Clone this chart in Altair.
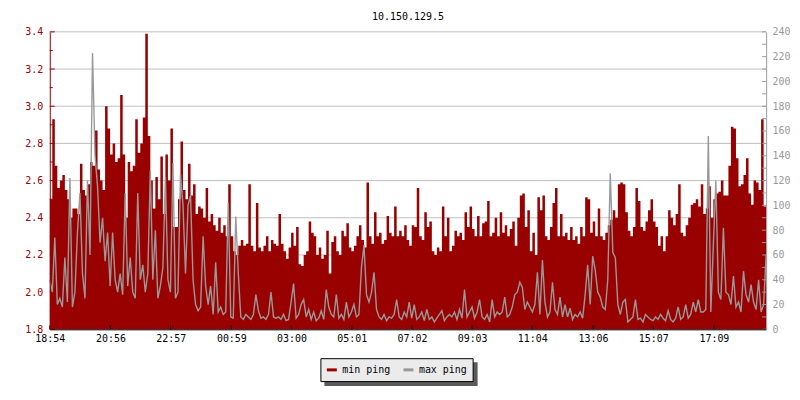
import altair as alt
import pandas as pd

# ---- data (5-minute steps, 18:54 -> 18:54 next day) ----
min_ping = [
    2.50, 2.93, 2.68, 2.56, 2.60, 2.63, 2.55, 2.50, 2.40, 2.45,
    2.45, 2.42, 2.69, 2.55, 2.52, 2.58, 2.70, 2.68, 2.87, 2.66,
    2.60, 2.55, 3.00, 2.88, 2.74, 2.80, 2.70, 2.72, 3.06, 2.74,
    2.40, 2.70, 2.65, 2.68, 2.93, 2.75, 2.80, 2.94, 3.39, 2.84,
    2.60, 2.45, 2.62, 2.50, 2.73, 2.42, 2.74, 2.60, 2.88, 2.35,
    2.35, 2.50, 2.81, 2.55, 2.50, 2.69, 2.52, 2.58, 2.42, 2.46,
    2.45, 2.40, 2.56, 2.38, 2.42, 2.36, 2.33, 2.40, 2.32, 2.36,
    2.30, 2.58, 2.30, 2.22, 2.20, 2.25, 2.28, 2.25, 2.26, 2.58,
    2.25, 2.22, 2.48, 2.24, 2.22, 2.25, 2.30, 2.22, 2.28, 2.26,
    2.25, 2.42, 2.26, 2.22, 2.18, 2.24, 2.32, 2.25, 2.35, 2.15,
    2.14, 2.20, 2.22, 2.38, 2.32, 2.30, 2.20, 2.24, 2.18, 2.20,
    2.33, 2.10, 2.27, 2.30, 2.22, 2.20, 2.33, 2.30, 2.37, 2.24,
    2.22, 2.25, 2.30, 2.36, 2.28, 2.24, 2.59, 2.30, 2.26, 2.43,
    2.30, 2.32, 2.26, 2.28, 2.41, 2.32, 2.30, 2.46, 2.30, 2.33,
    2.30, 2.36, 2.28, 2.25, 2.36, 2.35, 2.56, 2.30, 2.28, 2.43,
    2.35, 2.38, 2.22, 2.20, 2.24, 2.22, 2.46, 2.30, 2.40, 2.22,
    2.25, 2.33, 2.30, 2.32, 2.28, 2.43, 2.35, 2.46, 2.34, 2.30,
    2.41, 2.30, 2.37, 2.38, 2.49, 2.30, 2.32, 2.40, 2.30, 2.43,
    2.32, 2.36, 2.30, 2.34, 2.38, 2.25, 2.40, 2.52, 2.53, 2.35,
    2.44, 2.22, 2.32, 2.20, 2.51, 2.44, 2.52, 2.30, 2.28, 2.35,
    2.48, 2.56, 2.30, 2.42, 2.30, 2.32, 2.28, 2.35, 2.28, 2.30,
    2.26, 2.35, 2.30, 2.51, 2.50, 2.32, 2.38, 2.30, 2.45, 2.30,
    2.28, 2.32, 2.36, 2.39, 2.44, 2.40, 2.58, 2.59, 2.58, 2.43,
    2.33, 2.30, 2.35, 2.56, 2.49, 2.35, 2.33, 2.38, 2.44, 2.50,
    2.38, 2.35, 2.25, 2.30, 2.22, 2.30, 2.44, 2.40, 2.36, 2.42,
    2.58, 2.32, 2.30, 2.36, 2.40, 2.47, 2.48, 2.50, 2.46, 2.58,
    2.42, 2.45, 2.57, 2.40, 2.50, 2.53, 2.54, 2.60, 2.52, 2.52,
    2.68, 2.89, 2.88, 2.72, 2.57, 2.58, 2.63, 2.72, 2.53, 2.47,
    2.60, 2.59, 2.55, 2.93, 2.46, 2.99,
]

max_ping = [
    40, 30, 74, 20, 25, 18, 58, 22, 122, 18,
    30, 78, 110, 45, 25, 120, 60, 223, 140, 115,
    70, 90, 55, 78, 35, 78, 40, 30, 45, 28,
    110, 35, 58, 30, 25, 110, 40, 52, 30, 45,
    128, 40, 80, 25, 35, 50, 123, 40, 30, 134,
    25, 30, 125, 100, 45, 100, 108, 40, 20, 15,
    18, 75, 35, 20, 35, 12, 54, 14, 18, 12,
    14, 102, 10, 9, 91, 45, 10, 8, 12, 10,
    8, 12, 28, 15, 9, 10, 8, 12, 30, 10,
    9, 10, 8, 12, 7, 8, 22, 37, 9, 12,
    20, 24, 10, 16, 8, 14, 7, 9, 15, 8,
    32, 18, 12, 10, 28, 9, 12, 8, 22, 10,
    14, 20, 10, 12, 50, 68, 28, 22, 30, 46,
    16, 10, 8, 12, 7, 10, 9, 12, 24, 10,
    8, 14, 10, 22, 9, 20, 8, 10, 14, 7,
    16, 8, 10, 6, 9, 12, 15, 7, 10, 12,
    10, 14, 8, 16, 9, 32, 10, 14, 18, 9,
    14, 24, 10, 8, 12, 6, 24, 10, 14, 12,
    14, 26, 10, 12, 18, 28, 30, 38, 34, 16,
    22, 18, 14, 20, 46, 12, 56, 22, 10, 14,
    38, 16, 12, 26, 10, 20, 10, 17, 8, 12,
    10, 14, 9, 28, 52, 20, 59, 48, 30, 26,
    18, 16, 40, 126, 62, 58, 20, 12, 22, 24,
    6, 8, 10, 24, 8, 9, 6, 12, 10, 8,
    7, 10, 8, 12, 9, 7, 15, 8, 6, 9,
    18, 8, 10, 20, 9, 12, 22, 14, 24, 14,
    14, 16, 156, 14, 68, 120, 30, 24, 82, 30,
    28, 20, 43, 18, 22, 14, 47, 28, 22, 36,
    22, 16, 40, 14, 20, 60,
]

left_ticks = [1.8, 2.0, 2.2, 2.4, 2.6, 2.8, 3.0, 3.2, 3.4]
left_minor = [1.9, 2.1, 2.3, 2.5, 2.7, 2.9, 3.1, 3.3]
right_labels = [0, 20, 40, 60, 80, 100, 120, 140, 160, 180, 200, 220, 240]
right_ticks = [0, 10, 20, 30, 40, 50, 60, 70, 80, 90, 100, 110, 120, 130,
               140, 150, 160, 170, 180, 190, 200, 210, 220, 230, 240]
time_labels = ["18:54", "20:56", "22:57", "00:59", "03:00", "05:01",
               "07:02", "09:03", "11:04", "13:06", "15:07", "17:09"]
series_names = ["min ping", "max ping"]
title_text = "10.150.129.5"

# ---- build tables ----
FONT = "DejaVu Sans Mono"
RED = "#990000"
GREY = "#999999"

start = pd.Timestamp("2023-05-01 18:54", tz="UTC")
t0 = int(start.value // 10**6)
span_ms = 24 * 3600 * 1000
n = len(min_ping)
step = span_ms / (n - 1)
df = pd.DataFrame({"t": [t0 + i * step for i in range(n)],
                   "minp": min_ping, "maxp": max_ping})

tick_ms = []
for lab in time_labels:
    h, m = map(int, lab.split(":"))
    day = start.normalize() + pd.Timedelta(days=0 if h >= 18 else 1)
    tick_ms.append(int((day + pd.Timedelta(hours=h, minutes=m)).value // 10**6))

W, H = 720, 299

xscale = alt.Scale(type="utc", domain=[t0, t0 + span_ms])
lscale = alt.Scale(domain=[1.8, 3.4], nice=False, zero=False)
rscale = alt.Scale(domain=[0, 240], nice=False, zero=False)

XAX = alt.Axis(values=tick_ms, format="%H:%M", labelFlush=False,
               tickSize=0, domainColor="black", labelColor="black",
               labelPadding=4, grid=False, zindex=1, title=None)
LAX = alt.Axis(values=left_ticks, format=".1f", tickSize=0,
               labelColor=RED, domainColor=RED, labelPadding=7,
               grid=False, zindex=1, title=None)
RAX = alt.Axis(orient="right", values=right_labels, tickSize=0,
               labelColor=GREY, domainColor=GREY, labelPadding=6,
               grid=False, zindex=1, title=None)


def xenc(field):
    return alt.X(field, type="temporal", scale=xscale, axis=XAX)


def lenc(field):
    return alt.Y(field, type="quantitative", scale=lscale, axis=LAX)


def renc(field):
    return alt.Y(field, type="quantitative", scale=rscale, axis=RAX)


grid = alt.Chart(pd.DataFrame({"v": left_ticks})).mark_rule(
    color="#C0C0C0", strokeWidth=1).encode(
    y=lenc("v"), x=alt.value(0), x2=alt.value(W))

area = alt.Chart(df).mark_area(color=RED, interpolate="step-after").encode(
    x=xenc("t"), y=lenc("minp"), y2=alt.datum(1.8))

lmajor = alt.Chart(pd.DataFrame({"v": left_ticks})).mark_rule(color=RED).encode(
    y=lenc("v"), x=alt.value(0), x2=alt.value(5))
lminor = alt.Chart(pd.DataFrame({"v": left_minor})).mark_rule(color=RED).encode(
    y=lenc("v"), x=alt.value(0), x2=alt.value(3))

bticks = alt.Chart(pd.DataFrame({"t": tick_ms})).mark_rule(color="black").encode(
    x=xenc("t"), y=alt.value(H), y2=alt.value(H - 4))

shadow = alt.Chart(pd.DataFrame({"a": [0]})).mark_rect(color="#5a5a5a").encode(
    x=alt.value(276), x2=alt.value(430), y=alt.value(332), y2=alt.value(356))

left = alt.layer(grid, area, lmajor, lminor, bticks, shadow)

line = alt.Chart(df).transform_calculate(series="'max ping'").mark_line(
    strokeWidth=1.4).encode(
    x=xenc("t"),
    y=renc("maxp"),
    color=alt.Color("series:N",
                    scale=alt.Scale(domain=series_names, range=[RED, GREY]),
                    legend=alt.Legend(title=None, orient="none", legendX=272,
                                      legendY=328, direction="horizontal",
                                      fillColor="#EBEBEB", strokeColor="black",
                                      padding=5, symbolType="stroke",
                                      symbolStrokeWidth=3, symbolSize=100,
                                      labelFont=FONT, labelFontSize=10,
                                      labelColor="black", columnPadding=6,
                                      labelOffset=4)))

rticks = alt.Chart(pd.DataFrame({"v": right_ticks})).mark_rule(color=GREY).encode(
    y=renc("v"), x=alt.value(W - 4), x2=alt.value(W))

right = alt.layer(line, rticks)

chart = alt.layer(left, right).resolve_scale(y="independent").properties(
    width=W, height=H,
    title=alt.Title(title_text, font=FONT, fontSize=10, fontWeight="normal",
                    color="black", anchor="middle", offset=5),
    padding={"left": 42, "top": 23, "right": 26, "bottom": 60},
    autosize=alt.AutoSizeParams(type="none"),
).configure_axis(
    labelFont=FONT, labelFontSize=10, domainWidth=1
).configure_view(stroke=None)

chart.save("out.html", embed_options={"renderer": "svg", "actions": False})
